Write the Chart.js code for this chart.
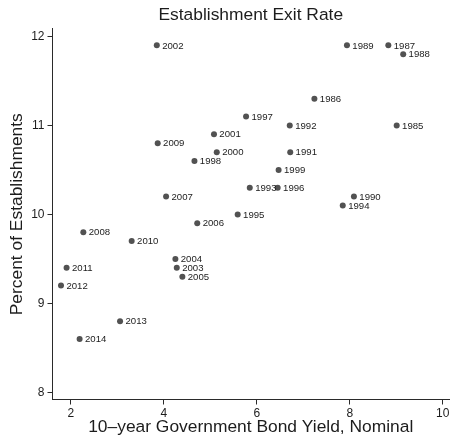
<!DOCTYPE html>
<html>
<head>
<meta charset="utf-8">
<script src="https://cdn.jsdelivr.net/npm/chart.js@4/dist/chart.umd.min.js"></script>
<style>
  html, body { margin: 0; padding: 0; background: #ffffff; }
  canvas { display: block; }
</style>
</head>
<body>
<canvas id="chart" width="452" height="438"></canvas>
<script>
// Establishment exit rate against the nominal 10-year bond yield, by year
const years = [1985, 1986, 1987, 1988, 1989, 1990, 1991, 1992, 1993, 1994,
               1995, 1996, 1997, 1998, 1999, 2000, 2001, 2002, 2003, 2004,
               2005, 2006, 2007, 2008, 2009, 2010, 2011, 2012, 2013, 2014];
const bondYield = [9.01, 7.24, 8.83, 9.15, 7.94, 8.09, 6.72, 6.71, 5.85, 7.85,
                   5.59, 6.45, 5.77, 4.66, 6.47, 5.14, 5.08, 3.85, 4.28, 4.25,
                   4.40, 4.72, 4.05, 2.27, 3.87, 3.31, 1.91, 1.79, 3.06, 2.19];
const exitRate = [11.0, 11.3, 11.9, 11.8, 11.9, 10.2, 10.7, 11.0, 10.3, 10.1,
                  10.0, 10.3, 11.1, 10.6, 10.5, 10.7, 10.9, 11.9, 9.4, 9.5,
                  9.3, 9.9, 10.2, 9.8, 10.8, 9.7, 9.4, 9.2, 8.8, 8.6];
const xTicks = [2, 4, 6, 8, 10];
const yTicks = [8, 9, 10, 11, 12];

const FONT = '"Liberation Sans", Arial, Helvetica, sans-serif';
const INK = '#1c1c1c';
const AXIS = '#2a2a2a';

// Writes the year next to each marker
const yearLabels = {
  id: 'yearLabels',
  afterDatasetsDraw(chart) {
    const ctx = chart.ctx;
    const meta = chart.getDatasetMeta(0);
    ctx.save();
    ctx.font = '9.6px ' + FONT;
    ctx.fillStyle = INK;
    ctx.textAlign = 'left';
    ctx.textBaseline = 'middle';
    meta.data.forEach((pt, i) => {
      ctx.fillText(String(years[i]), pt.x + 5.4, pt.y + 0.5);
    });
    ctx.restore();
  }
};

new Chart(document.getElementById('chart'), {
  type: 'scatter',
  data: {
    datasets: [{
      data: bondYield.map((x, i) => ({ x: x, y: exitRate[i] })),
      pointRadius: 3,
      pointHoverRadius: 3,
      pointBackgroundColor: '#525252',
      pointBorderWidth: 0,
      borderWidth: 0
    }]
  },
  options: {
    responsive: false,
    animation: false,
    events: [],
    layout: { padding: { left: 0, right: 2, top: 0, bottom: 0 } },
    plugins: {
      legend: { display: false },
      tooltip: { enabled: false },
      title: {
        display: true,
        fullSize: false,
        text: 'Establishment Exit Rate',
        color: INK,
        font: { family: FONT, size: 17.4, weight: 'normal', lineHeight: 1.2 },
        padding: { top: 5, bottom: 3.1 }
      }
    },
    scales: {
      x: {
        type: 'linear',
        min: 1.607,
        max: 10.135,
        afterBuildTicks: (s) => { s.ticks = xTicks.map(v => ({ value: v })); },
        afterFit: (s) => { s.height = 38.5; s.paddingLeft = 0; s.paddingRight = 0; },
        ticks: {
          color: INK,
          padding: 2,
          font: { family: FONT, size: 12 },
          maxRotation: 0,
          autoSkip: false
        },
        grid: { drawOnChartArea: false, drawTicks: true, tickLength: 5, color: AXIS, lineWidth: 1 },
        border: { display: true, color: AXIS, width: 1 },
        title: {
          display: true,
          text: '10\u2013year Government Bond Yield, Nominal',
          color: INK,
          font: { family: FONT, size: 17.4, lineHeight: 1.2 },
          padding: { top: 0, bottom: 0 }
        }
      },
      y: {
        type: 'linear',
        min: 7.92,
        max: 12.084,
        afterBuildTicks: (s) => { s.ticks = yTicks.map(v => ({ value: v })); },
        afterFit: (s) => { s.width = 52.5; s.paddingTop = 0; s.paddingBottom = 0; },
        ticks: {
          color: INK,
          padding: 3,
          font: { family: FONT, size: 12 },
          autoSkip: false
        },
        grid: { drawOnChartArea: false, drawTicks: true, tickLength: 5, color: AXIS, lineWidth: 1 },
        border: { display: true, color: AXIS, width: 1 },
        title: {
          display: true,
          text: 'Percent of Establishments',
          color: INK,
          font: { family: FONT, size: 17.4, lineHeight: 1.2 },
          padding: { top: 7, bottom: 0 }
        }
      }
    }
  },
  plugins: [yearLabels]
});
</script>
</body>
</html>
